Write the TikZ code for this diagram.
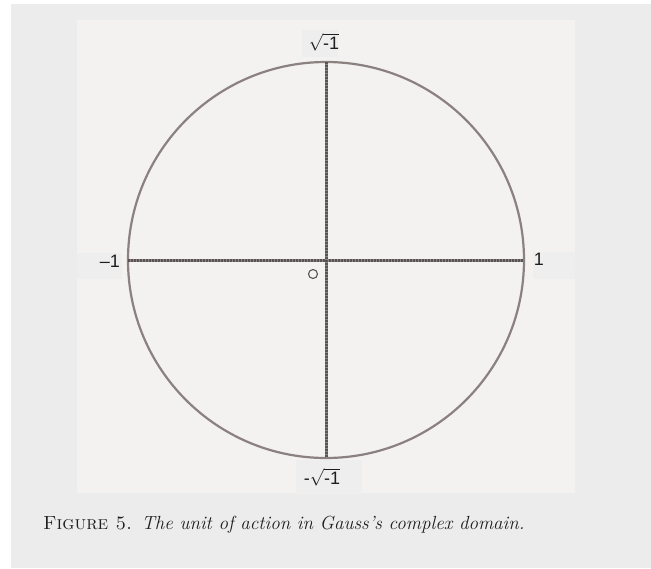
\documentclass[tikz,border=0pt]{standalone}
\usepackage{fontspec}
\newfontfamily\labfont{Liberation Sans}
\definecolor{outerbg}{HTML}{ECECEC}
\definecolor{innerbg}{HTML}{F3F2F0}
\definecolor{boxbg}{HTML}{EEEEEE}
\definecolor{axisbase}{HTML}{8C8482}
\definecolor{axisdot}{HTML}{5A5452}
\definecolor{circcol}{HTML}{8A8180}
\definecolor{textcol}{HTML}{1E1E1E}
\tikzset{
  labbox/.style={fill=boxbg, draw=none},
  axislabel/.style={inner sep=0pt, text=textcol, font=\labfont\fontsize{18}{18}\selectfont},
  axisline/.style={draw=axisbase, line width=3pt},
  axisdots/.style={draw=axisdot, line width=3pt, dash pattern=on 1.5pt off 1.5pt},
  unitcircle/.style={draw=circcol, line width=2.2pt}
}
\begin{document}
\begin{tikzpicture}[x=1pt,y=-1pt]
\useasboundingbox (0,0) rectangle (651,568);
\fill[white] (0,0) rectangle (651,568);
\fill[outerbg] (11,4) rectangle (651,568);
\fill[innerbg] (77,20) rectangle (575,493);
% label boxes
\fill[labbox] (77,253) rectangle (122,279);
\fill[labbox] (533,252) rectangle (575,279);
\fill[labbox] (302,30) rectangle (338,57);
\fill[labbox] (296,460) rectangle (362,495);
% circle geometry
\coordinate (O) at (326,260);
\coordinate (W) at (128,260);
\coordinate (E) at (524,260);
\coordinate (N) at (326,62);
\coordinate (S) at (326,458);
\draw[unitcircle] (O) circle[radius=198];
\draw[axisline] (W) -- (E);
\draw[axisdots] (W) -- (E);
\draw[axisline] (N) -- (S);
\draw[axisdots] (N) -- (S);
% labels
\node[axislabel] (lw) at (110,261) {–1};
\node[axislabel] (le) at (539,259) {1};
\node[axislabel] (ln) at (324,42) {$\sqrt{\hbox{\labfont\fontsize{18}{18}\selectfont -1}}$};
\node[axislabel] (ls) at (322,477) {-$\sqrt{\hbox{\labfont\fontsize{18}{18}\selectfont -1}}$};
\node[draw=axisdot, line width=1.1pt, circle, minimum size=9pt, inner sep=0pt] (zero) at (313,274) {};
% caption
\node[anchor=base west, inner sep=0pt, text=textcol, font=\fontsize{19}{19}\selectfont] (cap) at (43,529)
  {\textsc{Figure 5.}\enspace\textit{The unit of action in Gauss's complex domain.}};
\end{tikzpicture}
\end{document}
